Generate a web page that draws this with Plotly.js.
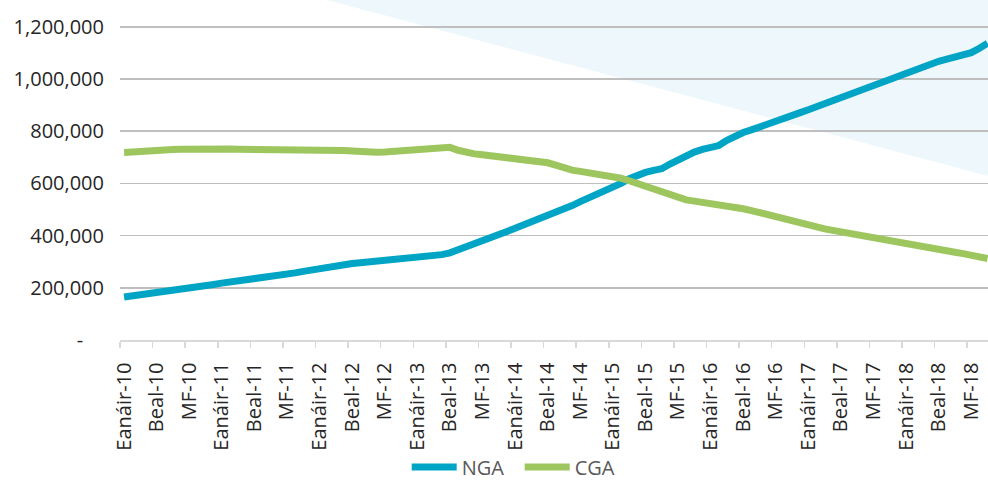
<!DOCTYPE html>
<html>
<head>
<meta charset="utf-8">
<script src="https://cdn.plot.ly/plotly-3.0.1.min.js"></script>
<style>
  html, body { margin: 0; padding: 0; background: #ffffff; }
  #chart { width: 988px; height: 480px; }
</style>
</head>
<body>
<div id="chart"></div>
<script>
// Monthly series, Eanáir-10 (Jan 2010) onward, values in connections
const seriesNames = ["NGA", "CGA"];

const ngaValues = [
  165000, 169000, 172000, 176000, 179000, 183000, 187000, 192000, 198000, 203000,
  208000, 213000, 218000, 222000, 226000, 229000, 232000, 235000, 240000, 246000,
  251000, 257000, 263000, 269000, 275000, 280000, 285000, 289000, 293000, 296000,
  299000, 302000, 304000, 307000, 309000, 312000, 314000, 318000, 322000, 327000,
  334000, 345000, 357000, 366000, 376000, 389000, 404000, 416000, 428000, 440000,
  452000, 464000, 475000, 485000, 498000, 515000, 530000, 544000, 556000, 568000,
  583000, 600000, 618000, 632000, 642000, 650000, 656000, 674000, 690000, 704000,
  720000, 730000, 736000, 745000, 765000, 783000, 795000, 805000, 815000, 824000,
  835000, 848000, 860000, 871000, 882000, 894000, 906000, 918000, 929000, 940000,
  951000, 963000, 975000, 988000, 1000000, 1012000, 1022000, 1032000, 1048000, 1058000,
  1068000, 1076000, 1083000, 1091000, 1101000, 1118000, 1137000
];

const cgaValues = [
  718000, 721000, 724000, 726000, 728000, 729000, 730000, 731000, 732000, 733000,
  734000, 734000, 733000, 732000, 731000, 731000, 731000, 730000, 728000, 726000,
  726000, 727000, 729000, 731000, 730000, 729000, 728000, 726000, 724000, 721000,
  719000, 719000, 720000, 722000, 724000, 727000, 729000, 731000, 733000, 736000,
  738000, 727000, 717000, 713000, 710000, 706000, 703000, 700000, 697000, 694000,
  690000, 685000, 679000, 670000, 659000, 651000, 646000, 641000, 637000, 633000,
  627000, 620000, 610000, 599000, 588000, 576000, 566000, 555000, 545000, 537000,
  532000, 528000, 524000, 515000, 516000, 510000, 503000, 496000, 488000, 480000,
  471000, 461000, 451000, 443000, 437000, 432000, 426000, 420000, 414000, 408000,
  402000, 396000, 390000, 384000, 379000, 374000, 368000, 362000, 357000, 352000,
  347000, 342000, 336000, 331000, 325000, 318000, 312000
];

// Category labels shown every fourth month
const tickLabels = [
  "Eanáir-10", "Beal-10", "MF-10",
  "Eanáir-11", "Beal-11", "MF-11",
  "Eanáir-12", "Beal-12", "MF-12",
  "Eanáir-13", "Beal-13", "MF-13",
  "Eanáir-14", "Beal-14", "MF-14",
  "Eanáir-15", "Beal-15", "MF-15",
  "Eanáir-16", "Beal-16", "MF-16",
  "Eanáir-17", "Beal-17", "MF-17",
  "Eanáir-18", "Beal-18", "MF-18"
];

const yTickValues = [0, 200000, 400000, 600000, 800000, 1000000, 1200000];
const yTickLabels = ["-\u00a0\u00a0\u00a0\u00a0", "200,000", "400,000", "600,000", "800,000", "1,000,000", "1,200,000"];

const monthIndex = ngaValues.map((_, i) => i);
const step = 4;
const tickPositions = tickLabels.map((_, i) => i * step - 0.5);

const colors = { NGA: "#00A5C6", CGA: "#9DC65F" };

const traces = [
  {
    x: monthIndex, y: ngaValues, name: seriesNames[0], type: "scatter", mode: "lines",
    line: { color: colors.NGA, width: 7 }, hoverinfo: "skip"
  },
  {
    x: monthIndex, y: cgaValues, name: seriesNames[1], type: "scatter", mode: "lines",
    line: { color: colors.CGA, width: 7 }, hoverinfo: "skip"
  }
];

const font = "'Open Sans', 'Noto Sans', 'DejaVu Sans', sans-serif";

const layout = {
  width: 988, height: 480,
  margin: { l: 120, r: 0, t: 0, b: 140 },
  paper_bgcolor: "#ffffff", plot_bgcolor: "rgba(0,0,0,0)",
  font: { family: font, size: 20, color: "#262626" },
  showlegend: true,
  legend: {
    orientation: "h", xref: "container", yref: "container",
    x: 0.526, xanchor: "center", y: 0.027, yanchor: "middle",
    font: { family: font, size: 20, color: "#595959" },
    itemwidth: 45, entrywidth: 53, traceorder: "normal", bgcolor: "rgba(0,0,0,0)"
  },
  xaxis: {
    range: [-0.5, 106.05],
    tickmode: "array", tickvals: tickPositions, ticktext: tickLabels,
    tickangle: -90, ticklabelshift: 4, ticklabelstandoff: 7,
    ticks: "outside", ticklen: 6, tickcolor: "#D9D9D9", tickwidth: 1.5,
    showline: true, linecolor: "#D9D9D9", linewidth: 1.5,
    showgrid: false, zeroline: false,
    tickfont: { family: font, size: 20, color: "#262626" },
    fixedrange: true
  },
  yaxis: {
    range: [0, 1302700],
    tickmode: "array", tickvals: yTickValues, ticktext: yTickLabels,
    ticks: "", ticklabelstandoff: 15,
    showgrid: true, gridcolor: "#BFBFBF", gridwidth: 1.5,
    zeroline: false, showline: false,
    tickfont: { family: font, size: 20, color: "#262626" },
    fixedrange: true
  },
  shapes: [
    {
      type: "path", xref: "paper", yref: "paper", layer: "below",
      path: "M0.2385,1 L1,1 L1,0.4824 Z",
      fillcolor: "#EEF7FC", line: { width: 0 }
    }
  ]
};

Plotly.newPlot("chart", traces, layout, { displayModeBar: false, staticPlot: true });
</script>
</body>
</html>
